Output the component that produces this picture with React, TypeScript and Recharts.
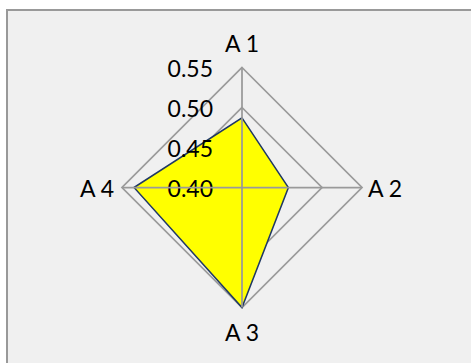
import { PolarAngleAxis, PolarGrid, PolarRadiusAxis, Radar, RadarChart } from "recharts";

const categories = ["A 1", "A 2", "A 3", "A 4"];
const values = [0.487, 0.458, 0.55, 0.535];
const radiusTicks = [0.4, 0.45, 0.5, 0.55];

const data = categories.map((name, i) => ({ name, value: values[i] }));

const CX = 242;
const CY = 187.5;
const FONT = "Lato, 'Open Sans', sans-serif";

// axis labels sit just outside the outer polygon, vertically centred
const AngleTick = (props: any) => {
  const { x, y, payload, textAnchor } = props;
  let ty = y;
  let tx = x;
  if (textAnchor === "middle") {
    ty = y < CY ? y - 17 : y + 16.5;
  } else {
    ty = CY;
    if (textAnchor === "start") tx = x - 2;
  }
  return (
    <text x={tx} y={ty} textAnchor={textAnchor} dominantBaseline="central" fontSize={23} fontFamily={FONT} fill="#000">
      {payload.value}
    </text>
  );
};

const RadiusTick = (props: any) => {
  const { x, y, payload } = props;
  return (
    <text x={x - 29} y={y} textAnchor="end" dominantBaseline="central" fontSize={23} fontFamily={FONT} fill="#000">
      {Number(payload.value).toFixed(2)}
    </text>
  );
};

export default function App() {
  return (
    <div style={{ position: "absolute", left: 0, top: 0, width: 471, height: 363, background: "#fff", overflow: "hidden" }}>
      <div
        style={{
          position: "absolute",
          left: 6,
          top: 9,
          width: 480,
          height: 370,
          background: "#f0f0f0",
          borderTop: "2px solid #999",
          borderLeft: "2px solid #999",
        }}
      />
      <div style={{ position: "absolute", left: 0, top: 0 }}>
        <RadarChart width={471} height={363} data={data} cx={CX} cy={CY} outerRadius={120}>
          <PolarGrid gridType="polygon" stroke="#9a9a9a" strokeWidth={1.75} radialLines={false} />
          <PolarAngleAxis dataKey="name" tick={AngleTick} tickLine={false} axisLine={false} />
          <PolarRadiusAxis
            type="number"
            angle={90}
            domain={[0.4, 0.55]}
            allowDataOverflow
            allowDecimals
            ticks={radiusTicks}
            tickCount={4}
            tick={RadiusTick}
            axisLine={false}
            tickLine={false}
          />
          <Radar dataKey="value" fill="#ffff00" fillOpacity={1} stroke="#1f3864" strokeWidth={1.5} isAnimationActive={false} />
          {/* radial spokes drawn again on top of the filled area */}
          <PolarGrid gridType="polygon" stroke="#9a9a9a" strokeWidth={1.75} polarRadius={[]} zIndex={700} />
        </RadarChart>
      </div>
    </div>
  );
}
